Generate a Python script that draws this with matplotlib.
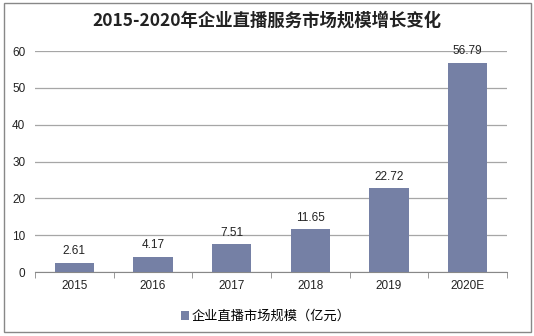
import matplotlib.pyplot as plt
import numpy as np
from matplotlib.patches import Rectangle

plt.rcParams['font.family'] = ['Noto Sans CJK SC', 'DejaVu Sans']

years = ["2015", "2016", "2017", "2018", "2019", "2020E"]
values = [2.61, 4.17, 7.51, 11.65, 22.72, 56.79]
bar_color = "#7580a5"

fig = plt.figure(figsize=(5.34, 3.36), dpi=100)
ax = fig.add_axes([0.0655, 0.19, 0.884, 0.658])

x = np.arange(len(years))
bars = ax.bar(x, values, width=0.5, color=bar_color, zorder=3,
              label="企业直播市场规模（亿元）")

for xi, v in zip(x, values):
    ax.text(xi, v + 1.5, f"{v:.2f}", ha="center", va="bottom",
            fontsize=8.5, family=["Liberation Sans", "DejaVu Sans"], color="#222222")

ax.set_xlim(-0.5, len(years) - 0.5)
ax.set_ylim(0, 60)
ax.set_yticks(range(0, 61, 10))
ax.yaxis.grid(True, color="#a6a6a6", linewidth=0.9, zorder=0)
ax.set_xticks(x)
ax.set_xticklabels(years)
ax.set_xticks(np.arange(-0.5, len(years)), minor=True)
ax.tick_params(axis="x", which="major", length=0, pad=6, labelsize=8.5)
ax.tick_params(axis="x", which="minor", length=4, color="#888888")
ax.tick_params(axis="y", length=0, pad=7, labelsize=8.5)
for lab in ax.get_xticklabels() + ax.get_yticklabels():
    lab.set_family(["Liberation Sans", "DejaVu Sans"])
    lab.set_color("#222222")

for s in ["top", "right", "left"]:
    ax.spines[s].set_visible(False)
ax.spines["bottom"].set_color("#888888")

fig.text(0.5, 0.94, "2015-2020年企业直播服务市场规模增长变化", ha="center",
         va="center", fontsize=12.5, fontweight="bold", color="#222222")

leg = fig.legend(handles=[bars], loc="center", bbox_to_anchor=(0.497, 0.058),
                 frameon=False, fontsize=9.5, handlelength=0.6, handleheight=0.6,
                 handletextpad=0.2)

fig.patches.append(Rectangle((0.007, 0.012), 0.988, 0.978, transform=fig.transFigure,
                             fill=False, edgecolor="#888888", linewidth=1))

fig.savefig("out.png", dpi=100)
